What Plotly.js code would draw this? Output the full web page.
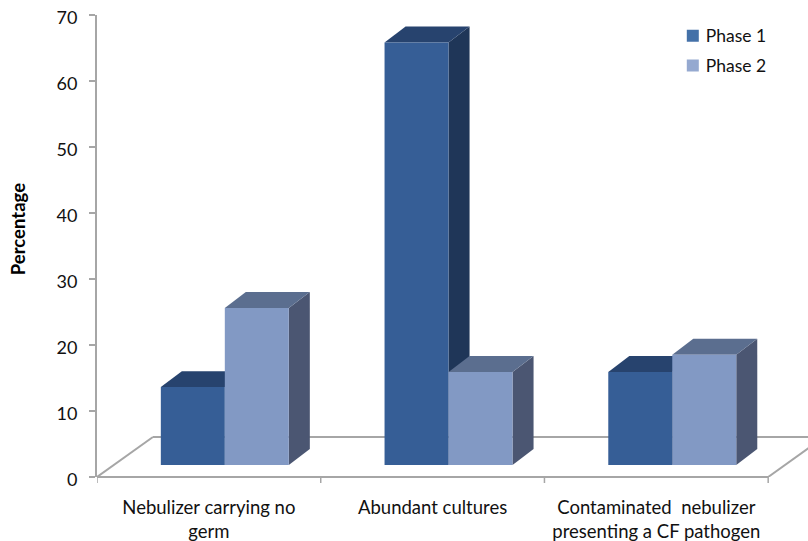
<!DOCTYPE html>
<html>
<head>
<meta charset="utf-8">
<script src="https://cdn.plot.ly/plotly-3.0.1.min.js"></script>
<style>html,body{margin:0;padding:0;background:#fff}</style>
</head>
<body>
<div id="chart" style="width:808px;height:541px"></div>
<script>
// Bar heights, measured up from the raised floor of the box
const categories = ["Nebulizer carrying no<br>germ", "Abundant cultures", "Contaminated  nebulizer<br>presenting a CF pathogen"];
const phase1 = [11.8, 64, 14.1];
const phase2 = [23.8, 14.1, 16.7];
const seriesNames = ["Phase 1", "Phase 2"];
const yTicks = [0, 10, 20, 30, 40, 50, 60, 70];

// Extruded box geometry in axis units
const floorLift = 1.82;
const barWidth = 0.286;
const slotOffsets = [-0.0717, 0.2143];
const depthX = 0.094;
const depthY = 2.42;
const floorBackX = -0.25;
const floorBackY = 6.06;
const xRange = [-0.5, 2.678];
const categoryEdges = [-0.5, 0.5, 1.5, 2.5];

const fronts = ["#365E96", "#8299C4"];
const tops = ["#27436E", "#5B6E8F"];
const sides = ["#1F3658", "#4B5672"];
const swatches = ["#4471A8", "#95A9D0"];
const lineGrey = "#A6A6A6";
const indices = categories.map((_, i) => i);

function poly(xs, ys, color) {
  const path = xs.map((x, i) => (i ? "L" : "M") + x + "," + ys[i]).join(" ") + " Z";
  return {type: "path", xref: "x", yref: "y", layer: "below", path: path, fillcolor: color, line: {width: 0}};
}

// Top and side faces sit under the front faces, first series first
const faces = [];
[phase1, phase2].forEach((vals, s) => {
  vals.forEach((v, i) => {
    const l = i + slotOffsets[s] - barWidth / 2;
    const r = l + barWidth;
    const t = floorLift + v;
    faces.push(poly([r, r + depthX, r + depthX, r],
                    [floorLift, floorLift + depthY, t + depthY, t], sides[s]));
    faces.push(poly([l, r, r + depthX, l + depthX],
                    [t, t, t + depthY, t + depthY], tops[s]));
  });
});

const floorLine = (x0, y0, x1, y1) => ({
  type: "line", xref: "x", yref: "y", layer: "below",
  x0: x0, y0: y0, x1: x1, y1: y1, line: {color: lineGrey, width: 2}
});
const floorShapes = [
  floorLine(-0.5, 0, floorBackX, floorBackY),
  floorLine(floorBackX, floorBackY, xRange[1], floorBackY),
  floorLine(2.5, 0, 2.5 + (floorBackX + 0.5), floorBackY)
];

// The front edge stops at the last category while the floor runs on to the right
const frontEdge = {
  type: "line", xref: "x", yref: "paper", layer: "above",
  x0: categoryEdges[0], x1: categoryEdges[3], y0: 0, y1: 0,
  line: {color: lineGrey, width: 2}
};
const edgeTicks = categoryEdges.map(x => ({
  type: "line", xref: "x", yref: "paper", layer: "above",
  x0: x, x1: x, y0: 0, y1: -6 / 462,
  line: {color: lineGrey, width: 1.5}
}));

const barTrace = (vals, s) => ({
  type: "bar",
  x: indices.map(i => i + slotOffsets[s]),
  y: vals,
  base: indices.map(() => floorLift),
  width: barWidth,
  marker: {color: fronts[s], line: {width: 0}},
  showlegend: false,
  hoverinfo: "skip"
});
const legendTrace = (s) => ({
  type: "scatter", mode: "markers",
  x: [null], y: [null],
  name: seriesNames[s],
  legendgroup: seriesNames[s],
  marker: {symbol: "square", size: 12, color: swatches[s]}
});

const font = "Lato, 'Open Sans', sans-serif";

Plotly.newPlot("chart", [
  barTrace(phase1, 0), barTrace(phase2, 1), legendTrace(0), legendTrace(1)
], {
  width: 808, height: 541,
  margin: {l: 97, r: 0, t: 15, b: 64, pad: 0},
  paper_bgcolor: "#fff", plot_bgcolor: "rgba(0,0,0,0)",
  font: {family: font, size: 17, color: "#111"},
  barmode: "overlay",
  shapes: floorShapes.concat(faces, [frontEdge], edgeTicks),
  xaxis: {
    range: xRange, tickmode: "array",
    tickvals: indices, ticktext: categories,
    ticks: "", showgrid: false, zeroline: false,
    showline: false,
    ticklabelstandoff: 17, tickangle: 0,
    tickfont: {size: 18.5}
  },
  yaxis: {
    range: [0, 70], tickmode: "array", tickvals: yTicks,
    ticks: "outside", ticklen: 6, tickcolor: lineGrey, tickwidth: 2,
    showgrid: false, zeroline: false,
    showline: true, linecolor: lineGrey, linewidth: 2,
    ticklabelstandoff: 8, ticklabelshift: 3,
    tickfont: {size: 18}
  },
  legend: {
    x: 0.80, y: 0.994, xanchor: "left", yanchor: "top",
    bgcolor: "rgba(0,0,0,0)", tracegroupgap: 4,
    font: {size: 17.5}
  },
  annotations: [{
    text: "<b>Percentage</b>", textangle: -90, showarrow: false,
    xref: "paper", yref: "paper", x: -0.129, y: 0.537,
    font: {size: 18.5, color: "#000"}
  }]
}, {displayModeBar: false, staticPlot: true}).then(gd => {
  // Tighten the gap between each legend swatch and its label
  gd.querySelectorAll(".legend .legendsymbols").forEach(g => g.setAttribute("transform", "translate(7,0)"));
});
</script>
</body>
</html>
